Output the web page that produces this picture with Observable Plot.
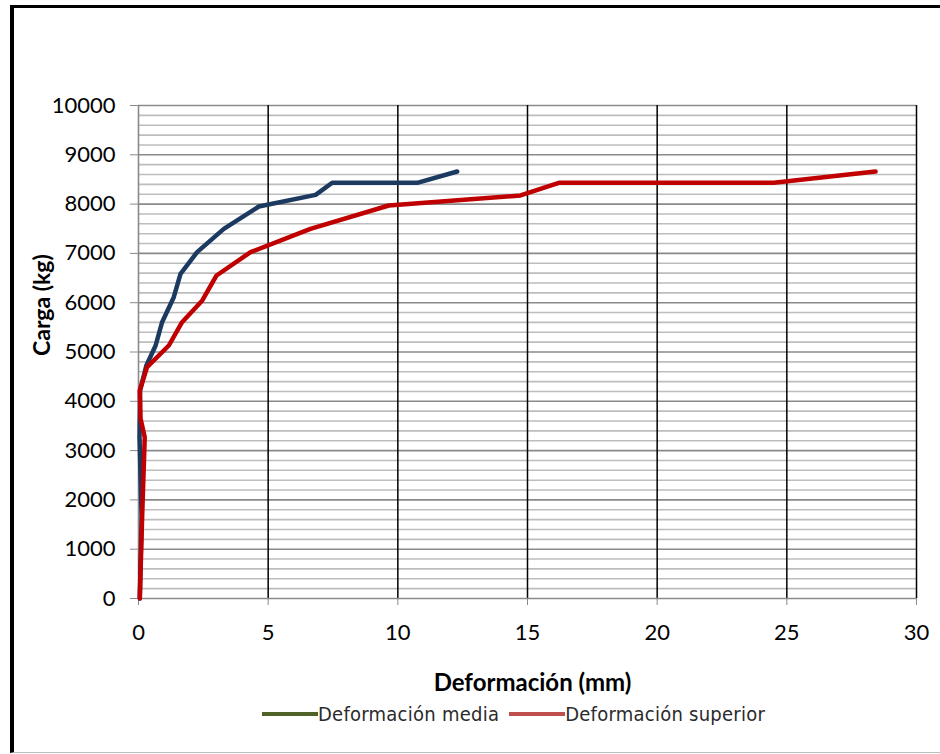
<!DOCTYPE html>
<html>
<head>
<meta charset="utf-8">
<script src="https://cdn.jsdelivr.net/npm/d3@7"></script>
<script src="https://cdn.jsdelivr.net/npm/@observablehq/plot@0.6"></script>
<style>
  html, body { margin: 0; padding: 0; background: #fff; }
  #wrap { position: relative; width: 940px; height: 754px; overflow: hidden; background: #fff; }
  #frame { position: absolute; left: 10px; top: 5px; width: 1000px; height: 744px;
           border-left: 4px solid #000; border-top: 3px solid #000; border-bottom: 1px solid #bdbdbd; }
  #chart { position: absolute; left: 0; top: 0; }
  #legend { position: absolute; left: 262px; top: 702px; height: 24px; display: flex; align-items: center;
            font-family: "Liberation Sans Narrow", "DejaVu Sans Condensed", "Liberation Sans", sans-serif;
            font-stretch: condensed; font-size: 20px; letter-spacing: 0.25px; color: #2b2b2b; white-space: nowrap; }
  .sw { display: inline-block; width: 56px; height: 4px; }
  .item { display: inline-flex; align-items: center; }
</style>
</head>
<body>
<div id="wrap">
  <div id="frame"></div>
  <div id="chart"></div>
  <div id="legend"></div>
</div>
<script>
// Series: Deformación media (mm) vs Carga (kg)
const mediaDef   = [0.05, 0.12, 0.04, 0.06, 0.30, 0.66, 0.91, 1.36, 1.62, 2.26, 3.29, 4.64, 6.83, 7.47, 10.75, 12.29];
const mediaCarga = [0,    1650, 3270, 4219, 4720, 5132, 5604, 6112, 6586, 7025, 7498, 7951, 8188, 8432, 8432, 8661];

// Series: Deformación superior (mm) vs Carga (kg)
const superiorDef   = [0.05, 0.14, 0.24, 0.08, 0.05, 0.33, 1.17, 1.68, 2.46, 3.01, 4.32, 6.63, 9.65, 14.73, 16.21, 24.50, 28.42];
const superiorCarga = [0,    1650, 3270, 3645, 4219, 4692, 5132, 5604, 6045, 6552, 7025, 7498, 7972, 8175,  8432,  8432,  8661];

const seriesNames = ["Deformación media", "Deformación superior"];
const xTicks = [0, 5, 10, 15, 20, 25, 30];
const yTicks = [0, 1000, 2000, 3000, 4000, 5000, 6000, 7000, 8000, 9000, 10000];
const yMinor = d3.range(0, 10001, 200).filter(v => v % 1000 !== 0);
const xTitle = "Deformación (mm)";
const yTitle = "Carga (kg)";

const media = mediaDef.map((d, i) => ({x: d, y: mediaCarga[i]}));
const superior = superiorDef.map((d, i) => ({x: d, y: superiorCarga[i]}));

const lineColors = ["#1c3a60", "#c00000"];
const legendColors = ["#4f6228", "#c0504d"];

const chart = Plot.plot({
  width: 940,
  height: 700,
  marginLeft: 138,
  marginRight: 24,
  marginTop: 105,
  marginBottom: 102,
  style: {fontFamily: "Lato, 'Open Sans', sans-serif", fontSize: "22px", color: "#000", background: "transparent", overflow: "visible"},
  x: {domain: [0, 30], ticks: xTicks},
  y: {domain: [0, 10000], ticks: yTicks},
  marks: [
    Plot.ruleY(yMinor, {stroke: "#bdbdbd", strokeWidth: 1.6}),
    Plot.ruleY(yTicks.filter(v => v > 0), {stroke: "#8a8a8a", strokeWidth: 1.6}),
    Plot.ruleX(xTicks.filter(v => v > 0), {stroke: "#000", strokeWidth: 1.5}),
    Plot.ruleX([0], {stroke: "#8a8a8a", strokeWidth: 1.6}),
    Plot.ruleY([0], {stroke: "#8a8a8a", strokeWidth: 1.6}),
    Plot.axisX({ticks: xTicks, tickSize: 7, tickPadding: 19, stroke: "#8a8a8a", fill: "#000", label: null, tickFormat: d => String(d)}),
    Plot.axisY({ticks: yTicks, tickSize: 8, tickPadding: 15, stroke: "#8a8a8a", fill: "#000", label: null, tickFormat: d => String(d)}),
    Plot.line(media, {x: "x", y: "y", stroke: lineColors[0], strokeWidth: 4.5, strokeLinejoin: "round", strokeLinecap: "round"}),
    Plot.line(superior, {x: "x", y: "y", stroke: lineColors[1], strokeWidth: 4.5, strokeLinejoin: "round", strokeLinecap: "round"}),
    Plot.text([xTitle], {frameAnchor: "bottom", dy: 92, dx: 5, text: d => d, fontWeight: "bold", fontSize: 24, fill: "#000"}),
    Plot.text([yTitle], {frameAnchor: "left", dx: -96, dy: 4, rotate: -90, text: d => d, fontWeight: "bold", fontSize: 23, fill: "#000"})
  ]
});
document.getElementById("chart").appendChild(chart);

const legend = document.getElementById("legend");
seriesNames.forEach((name, i) => {
  const item = document.createElement("span");
  item.className = "item";
  item.style.marginRight = i === 0 ? "10px" : "0";
  const sw = document.createElement("span");
  sw.className = "sw";
  sw.style.background = legendColors[i];
  const t = document.createElement("span");
  t.textContent = name;
  item.appendChild(sw);
  item.appendChild(t);
  legend.appendChild(item);
});
</script>
</body>
</html>
